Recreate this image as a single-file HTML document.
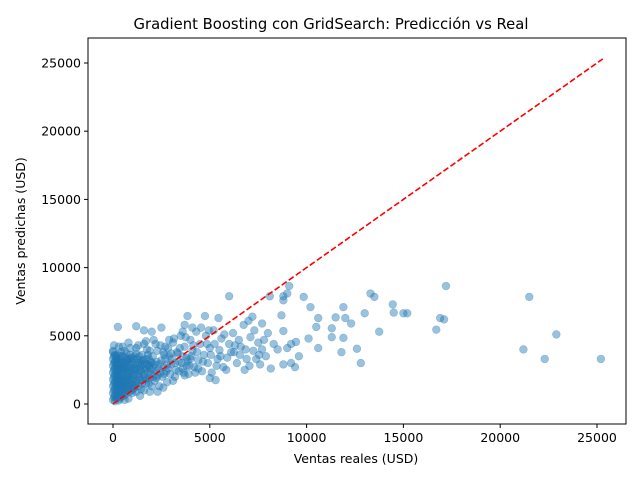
<!DOCTYPE html>
<html><head><meta charset="utf-8"><style>
body{margin:0;background:#fff}
svg{display:block;font-family:"DejaVu Sans","Liberation Sans",sans-serif}
</style></head><body>
<svg id="chart" width="640" height="480">
<rect width="640" height="480" fill="#fff"/>
<text x="331" y="29" text-anchor="middle" font-size="14.8" fill="#000">Gradient Boosting con GridSearch: Predicción vs Real</text>
<g id="points"></g>
<g id="ideal"></g>
<rect x="88" y="38" width="538" height="386" fill="none" stroke="#000" stroke-width="1"/>
<g id="xticks"></g>
<g id="yticks"></g>
<text x="356" y="463" text-anchor="middle" font-size="12.5">Ventas reales (USD)</text>
<text transform="translate(25,231) rotate(-90)" text-anchor="middle" font-size="12.5">Ventas predichas (USD)</text>
</svg>
<script>
const xTicks=[0,5000,10000,15000,20000,25000];
const yTicks=[0,5000,10000,15000,20000,25000];
const lineRange=[0,25300];
const muestras=[
[21500,7850],[21200,4000],[22300,3300],[22900,5100],[25200,3300],[17200,8650],[16900,6300],[17100,6200],[16700,5450],
[15200,6650],[15000,6650],[14450,7300],[14500,6700],[13750,5300],[13500,7850],[13300,8100],[13000,6650],[12800,3000],[12600,4050],
[12300,5900],[12000,6300],[11900,7100],[11900,4850],[11800,3800],[11500,6350],[11300,5550],[11300,4900],[10600,6300],[10500,5650],
[10600,4100],[10200,7100],[9850,7850],[10100,4800],[9400,2700],[9200,4400],[9450,4550],[9100,8650],[9000,8100],[8800,7600],
[8800,7900],[8700,6500],[8800,5350],[9000,4100],[9200,3000],[8800,2900],[8150,2600],[8100,7900],[7700,5900],[6000,7900],
[7000,6100],[7200,6400],[7300,5400],[7500,4500],[7700,4000],[7600,2900],[6800,2500],[6250,3800],[6500,4700],[6750,5800],
[5450,6300],[5500,3950],[5300,1750],[4750,6450],[3850,6450],[3700,5800],[1200,5700],[250,5650],[1600,5400],[2500,5600],
[8300,4400],[8000,5200],[7900,3500],[7400,3300],[7100,4900],[6900,3300],[6600,4200],[6400,3000],[6200,5200],[6000,4400],
[5900,3400],[5700,2700],[5600,4800],[5400,3300],[5200,5400],[5100,2300],[5000,4100],[4900,3000],[4800,5000],[4700,3600],
[4600,2400],[4500,4400],[4400,3200],[4300,5300],[4200,2700],[4100,3900],[4000,4700],[3900,2200],[3800,3400],[3700,4200],
[3600,2600],[3500,5000],[3400,3100],[3300,3800],[3200,2000],[3100,4500],[3000,2900],[2900,3500],[2800,1600],[2700,4200],
[2600,2700],[2500,3200],[2400,1300],[2300,3900],[2200,2400],[2100,4700],[2000,3000],[1900,1900],[1800,3600],[1700,2600],
[1600,4400],[1500,1500],[1400,3000],[1300,2200],[1200,3700],[1100,1200],[1000,2600],[900,4100],[800,1800],[700,3300],
[600,900],[500,2300],[400,3800],[300,1400],[200,2900],[100,600],[50,2000],[150,3500],[250,1100],[350,2500],
[450,1700],[550,3100],[650,2000],[750,2700],[850,1300],[950,3400],[1050,2100],[1150,2900],[1250,1600],[1350,3500],
[1450,2400],[1550,3200],[1650,1900],[1750,4000],[1850,2800],[1950,2200],[2050,3500],[2150,1700],[2250,3100],[2350,2600],
[2450,4300],[2550,2000],[2650,3600],[2750,2400],[2850,4100],[2950,2200],[3050,3300],[3150,4800],[3250,2500],[3350,3700],
[3450,4100],[3550,3000],[3650,2300],[3750,4900],[3850,3100],[3950,2800],[4050,3500],[4150,4300],[4250,2300],[4350,3800],
[4550,5600],[4650,3100],[4850,4400],[4950,5400],[5050,3600],[5250,4400],[5350,2800],[5550,3500],[5750,5100],[5850,2500],
[6100,3800],[6300,4300],[6550,3600],[6850,4000],[7050,2800],[7250,3900],[7550,3600],[7800,4700],[8500,4000],[9600,3500],
[0,300],[0,800],[0,1300],[0,1800],[0,2300],[0,2800],[0,3300],[0,3800],[100,200],[100,1100],
[100,1600],[100,2100],[100,2600],[100,3100],[100,3600],[200,500],[200,1000],[200,1500],[200,2000],[200,2500],
[200,3300],[300,700],[300,1900],[300,2300],[300,2800],[300,3200],[400,500],[400,1200],[400,1800],[400,2700],
[400,3300],[500,800],[500,1400],[500,1900],[500,2800],[500,3500],[600,1500],[600,2500],[600,3000],[700,1000],
[700,1500],[700,2300],[700,2900],[700,3700],[800,1200],[800,2400],[800,3100],[900,1500],[900,2000],[900,2900],
[1000,800],[1000,1700],[1000,3100],[1100,2200],[1100,2700],[1100,3500],[1200,1700],[1200,2600],[1300,1300],[1300,3000],
[1400,1800],[1400,2500],[1500,2900],[1500,3600],[1600,2100],[1700,1500],[1700,3300],[1800,2300],[1900,2800],[2000,1300],
[150,400],[250,1700],[350,1000],[450,2200],[550,600],[650,1200],[750,2000],[850,2600],[950,1000],[1050,1400],
[1150,2500],[1250,3300],[1350,2000],[1450,1100],[1550,2600],[1650,3000],[1750,1800],[1850,3300],[1950,2500],[2100,2000],
[2300,2100],[2400,2900],[2600,3800],[2800,2900],[3000,3700],[3200,3000],[3400,2400],[3600,3500],[3800,2800],[4000,3300],
[0,3900],[50,4300],[300,4200],[600,3900],[900,3600],[1200,4100],[2200,4400],[2900,4700],[3600,5300],[4100,5600],
[800,4500],[1700,4600],[1300,4300],[500,4200],[2000,5300],[1900,3900],[2700,3300],[3100,1700],[1900,900],[2600,1200],
[3700,2100],[4400,2600],[5000,1900],[2300,900],[1400,600],[800,400],[600,300],[300,250],[1600,1000],[1200,900],
[50,500],[50,1000],[50,1500],[50,2500],[50,3000],[50,3500],[150,800],[150,1300],[150,1800],[150,2300],
[150,2800],[150,3200],[250,600],[250,1400],[250,2100],[250,2600],[250,3000],[250,3600],[350,400],[350,1300],
[350,1700],[350,2100],[350,3000],[350,3500],[450,900],[450,1400],[450,2500],[450,3000],[550,1100],[550,1700],
[550,2600],[650,700],[650,1700],[650,2600],[650,3400],[750,1300],[750,1800],[750,3200],[850,900],[850,2200],
[850,3300],[950,1800],[950,2400],[1050,1100],[1050,3300],[1150,1500],[1250,2100],[1350,2700],[1450,3200],[1550,1800],
[1650,2400],[1750,2900],[1850,1500],[1950,3100],[2050,2600],[2150,2900],[2250,1900],[2450,2300],[2650,2200],[2850,2600]
];
const sx=v=>113+(v-0)*(597-113)/25000;
const sy=v=>404-(v-0)*(404-63)/25000;
const NS='http://www.w3.org/2000/svg';
const pg=document.getElementById('points');
muestras.forEach((d,i)=>{
 const c=document.createElementNS(NS,'circle');
 c.setAttribute('cx',sx(d[0]));c.setAttribute('cy',sy(d[1]));c.setAttribute('r',3.9);
 c.setAttribute('fill','#1f77b4');c.setAttribute('fill-opacity','0.45');
 c.setAttribute('stroke','#1f77b4');c.setAttribute('stroke-opacity','0.35');c.setAttribute('stroke-width','0.6');
 
 
 pg.appendChild(c);
});
const ln=document.createElementNS(NS,'line');
ln.setAttribute('x1',sx(lineRange[0]));ln.setAttribute('y1',sy(lineRange[0]));
ln.setAttribute('x2',sx(lineRange[1]));ln.setAttribute('y2',sy(lineRange[1]));
ln.setAttribute('stroke','#ff0000');ln.setAttribute('stroke-width','1.6');ln.setAttribute('stroke-dasharray','6,2.6');


document.getElementById('ideal').appendChild(ln);
const xg=document.getElementById('xticks');
xTicks.forEach(v=>{
 const t=document.createElementNS(NS,'line');
 t.setAttribute('x1',sx(v));t.setAttribute('x2',sx(v));t.setAttribute('y1',424);t.setAttribute('y2',428);t.setAttribute('stroke','#000');
 
 
 xg.appendChild(t);
 const l=document.createElementNS(NS,'text');
 l.setAttribute('x',sx(v));l.setAttribute('y',442);l.setAttribute('text-anchor','middle');l.setAttribute('font-size','12.5');l.textContent=v;
 
 
 xg.appendChild(l);
});
const yg=document.getElementById('yticks');
yTicks.forEach(v=>{
 const t=document.createElementNS(NS,'line');
 t.setAttribute('x1',84);t.setAttribute('x2',88);t.setAttribute('y1',sy(v));t.setAttribute('y2',sy(v));t.setAttribute('stroke','#000');
 
 
 yg.appendChild(t);
 const l=document.createElementNS(NS,'text');
 l.setAttribute('x',81);l.setAttribute('y',sy(v)+4.5);l.setAttribute('text-anchor','end');l.setAttribute('font-size','12.5');l.textContent=v;
 
 
 yg.appendChild(l);
});
</script>
</body></html>
